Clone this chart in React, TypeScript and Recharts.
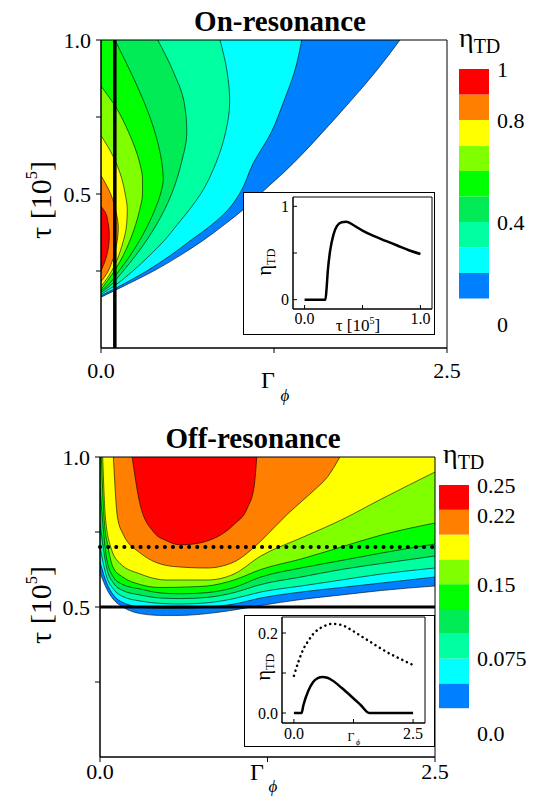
import {
  ComposedChart, Area, XAxis, YAxis, ReferenceLine, ReferenceArea,
  LineChart, Line, BarChart, Bar,
} from "recharts";

const SERIF = '"Liberation Serif", "Times New Roman", serif';
const BANDS = ["#0080FF", "#00FFFF", "#00FFA0", "#00EB55", "#00FF00", "#80FF00", "#FFFF00", "#FF8000", "#FF0000"];

// On-resonance: each contour line read as [tau, gamma]
const on10 = [[0.165, 0], [0.2, 0.16], [0.25, 0.38], [0.3, 0.57], [0.35, 0.74], [0.4, 0.89], [0.45, 1.03], [0.5, 1.15], [0.6, 1.39], [0.7, 1.6], [0.8, 1.8], [0.9, 1.99], [1.0, 2.16]];
const on20 = [[0.17, 0], [0.2, 0.13], [0.25, 0.33], [0.3, 0.5], [0.35, 0.65], [0.4, 0.8], [0.45, 0.92], [0.5, 1.0], [0.6, 1.1], [0.7, 1.23], [0.8, 1.32], [0.9, 1.4], [1.0, 1.45]];
const on30 = [[0.175, 0], [0.2, 0.09], [0.25, 0.23], [0.3, 0.35], [0.35, 0.46], [0.4, 0.55], [0.45, 0.64], [0.5, 0.72], [0.6, 0.83], [0.7, 0.9], [0.8, 0.93], [0.9, 0.91], [1.0, 0.86]];
const on40 = [[0.18, 0], [0.2, 0.06], [0.25, 0.16], [0.3, 0.25], [0.35, 0.33], [0.4, 0.4], [0.45, 0.46], [0.5, 0.51], [0.6, 0.58], [0.7, 0.62], [0.8, 0.6], [0.9, 0.52], [1.0, 0.41]];
const on50 = [[0.185, 0], [0.2, 0.04], [0.25, 0.13], [0.3, 0.21], [0.35, 0.28], [0.4, 0.34], [0.45, 0.39], [0.5, 0.43], [0.55, 0.45], [0.6, 0.44], [0.7, 0.39], [0.8, 0.31], [0.9, 0.21], [1.0, 0.1]];
const on60 = [[0.19, 0], [0.22, 0.05], [0.26, 0.11], [0.3, 0.16], [0.35, 0.21], [0.4, 0.25], [0.45, 0.28], [0.5, 0.3], [0.55, 0.3], [0.6, 0.28], [0.7, 0.2], [0.78, 0.11], [0.85, 0]];
const on70 = [[0.2, 0], [0.23, 0.05], [0.27, 0.1], [0.33, 0.15], [0.4, 0.185], [0.45, 0.19], [0.5, 0.175], [0.55, 0.15], [0.62, 0.09], [0.69, 0]];
const on80 = [[0.215, 0], [0.24, 0.04], [0.28, 0.08], [0.33, 0.11], [0.39, 0.125], [0.44, 0.11], [0.5, 0.07], [0.56, 0]];
const on90 = [[0.25, 0], [0.29, 0.035], [0.33, 0.055], [0.37, 0.06], [0.41, 0.05], [0.44, 0.032], [0.46, 0]];
const onLines = [on10, on20, on30, on40, on50, on60, on70, on80, on90];

// Off-resonance: lower edge of each level set read as [gamma, tau]
const off025 = [[0, 0.615], [0.05, 0.56], [0.1, 0.525], [0.17, 0.5], [0.3, 0.478], [0.45, 0.472], [0.6, 0.472], [0.8, 0.478], [1.0, 0.49], [1.2, 0.505], [1.5, 0.525], [1.8, 0.54], [2.1, 0.555], [2.5, 0.57]];
const off050 = [[0, 0.65], [0.05, 0.58], [0.1, 0.54], [0.17, 0.515], [0.3, 0.5], [0.45, 0.495], [0.6, 0.495], [0.8, 0.5], [1.0, 0.51], [1.2, 0.53], [1.5, 0.55], [1.8, 0.565], [2.1, 0.58], [2.5, 0.6]];
const off075 = [[0, 0.7], [0.05, 0.6], [0.1, 0.56], [0.17, 0.535], [0.3, 0.52], [0.45, 0.512], [0.6, 0.51], [0.8, 0.514], [1.0, 0.528], [1.2, 0.55], [1.5, 0.57], [1.8, 0.59], [2.1, 0.61], [2.5, 0.63]];
const off100 = [[0, 0.78], [0.05, 0.63], [0.1, 0.58], [0.17, 0.555], [0.3, 0.54], [0.45, 0.53], [0.6, 0.528], [0.8, 0.532], [1.0, 0.548], [1.2, 0.575], [1.5, 0.6], [1.8, 0.625], [2.1, 0.645], [2.5, 0.67]];
const off125 = [[0, 0.9], [0.05, 0.66], [0.1, 0.6], [0.17, 0.575], [0.3, 0.56], [0.45, 0.547], [0.6, 0.544], [0.8, 0.548], [1.0, 0.565], [1.2, 0.6], [1.5, 0.63], [1.8, 0.655], [2.1, 0.68], [2.5, 0.71]];
const off150 = [[0.01, 1.0], [0.03, 0.8], [0.06, 0.7], [0.1, 0.63], [0.17, 0.6], [0.3, 0.575], [0.45, 0.565], [0.67, 0.567], [0.8, 0.57], [1.0, 0.59], [1.2, 0.625], [1.5, 0.66], [1.8, 0.7], [2.1, 0.74], [2.5, 0.78]];
const off175 = [[0.02, 1.0], [0.04, 0.8], [0.08, 0.7], [0.15, 0.645], [0.3, 0.61], [0.5, 0.59], [0.8, 0.59], [1.0, 0.61], [1.2, 0.67], [1.5, 0.73], [1.8, 0.79], [2.1, 0.86], [2.5, 0.95]];
const off200 = [[0.1, 1.0], [0.13, 0.8], [0.17, 0.745], [0.3, 0.68], [0.55, 0.635], [0.8, 0.63], [1.0, 0.65], [1.1, 0.68], [1.2, 0.72], [1.3, 0.765], [1.4, 0.81], [1.5, 0.85], [1.6, 0.89], [1.7, 0.935], [1.79, 1.0]];
const off225 = [[0.24, 1.0], [0.3, 0.84], [0.4, 0.75], [0.5, 0.72], [0.6, 0.707], [0.7, 0.71], [0.8, 0.72], [0.9, 0.74], [1.0, 0.775], [1.1, 0.83], [1.15, 0.9], [1.17, 1.0]];
const offLines = [off025, off050, off075, off100, off125, off150, off175, off200, off225];

const onSteps = [0.1, 0.2, 0.3, 0.4, 0.5, 0.6, 0.7, 0.8, 0.9, 1.0];
const offSteps = [0.025, 0.05, 0.075, 0.1, 0.125, 0.15, 0.175, 0.2, 0.225, 0.25];
const onBarTicks = [0, 0.4, 0.8, 1];
const offBarTicks = [0, 0.075, 0.15, 0.22, 0.25];

// insets
const onCut = [[0, 0], [0.1, 0], [0.18, 0], [0.19, 0.12], [0.2, 0.3], [0.22, 0.52], [0.25, 0.7], [0.28, 0.79], [0.32, 0.83], [0.36, 0.835], [0.42, 0.8], [0.5, 0.74], [0.6, 0.68], [0.7, 0.63], [0.8, 0.58], [0.9, 0.53], [1.0, 0.49]];
const offDotted = [[0, 0.093], [0.1, 0.13], [0.2, 0.16], [0.3, 0.18], [0.4, 0.197], [0.5, 0.208], [0.65, 0.218], [0.8, 0.223], [1.0, 0.22], [1.2, 0.208], [1.4, 0.193], [1.6, 0.178], [1.8, 0.163], [2.0, 0.149], [2.2, 0.137], [2.5, 0.12]];
const offSolid = [[0, 0], [0.16, 0], [0.2, 0.02], [0.3, 0.055], [0.4, 0.077], [0.5, 0.087], [0.6, 0.09], [0.7, 0.088], [0.8, 0.082], [1.0, 0.063], [1.2, 0.042], [1.4, 0.02], [1.58, 0], [2.0, 0], [2.5, 0]];

const tickFont = { fontSize: 22, fontFamily: SERIF, fill: "#000" };
const smallFont = { fontSize: 16, fontFamily: SERIF, fill: "#000" };

function Txt({ x, y, size, bold, italic, rotate, children }: any) {
  return (
    <div style={{
      position: "absolute", left: x, top: y, fontFamily: SERIF, fontSize: size,
      fontWeight: bold ? 700 : 400, fontStyle: italic ? "italic" : "normal", lineHeight: 1,
      whiteSpace: "nowrap", transform: `translate(-50%,-50%)${rotate ? " rotate(-90deg)" : ""}`,
    }}>{children}</div>
  );
}

function Tau({ x, y, size }: any) {
  return (
    <Txt x={x} y={y} size={size} rotate>
      τ [10<span style={{ fontSize: "0.55em", verticalAlign: "0.8em" }}>5</span>]
    </Txt>
  );
}

function Eta({ x, y, size }: any) {
  return (
    <Txt x={x} y={y} size={size} rotate>
      η<span style={{ fontSize: "0.62em", verticalAlign: "-0.3em" }}>TD</span>
    </Txt>
  );
}

// plot area of the bar spans from top+20 to top+height-20
function ColorBar({ left, top, height, steps, ticks, fmt }: any) {
  const row: Record<string, number | string> = { k: "bar", base: steps[0] };
  steps.slice(1).forEach((s: number, i: number) => { row["b" + i] = s - steps[i]; });
  return (
    <div style={{ position: "absolute", left, top }}>
      <BarChart width={100} height={height} data={[row]} margin={{ top: 20, right: 0, bottom: 20, left: 0 }} barCategoryGap={0}>
        <XAxis dataKey="k" hide />
        <YAxis orientation="right" type="number" width={70} domain={[0, steps[steps.length - 1]]} ticks={ticks} interval={0}
          axisLine={false} tickLine={false} tickSize={0} tickMargin={8} tick={{ ...tickFont, textAnchor: "start" }} tickFormatter={fmt} />
        <Bar dataKey="base" stackId="s" fill="transparent" isAnimationActive={false} />
        {BANDS.map((c, i) => (
          <Bar key={i} dataKey={"b" + i} stackId="s" fill={c} isAnimationActive={false} />
        ))}
      </BarChart>
    </div>
  );
}

export default function App() {
  return (
    <div style={{ position: "absolute", left: 0, top: 0, width: 536, height: 804, background: "#fff" }}>
      {/* On-resonance map */}
      <div style={{ position: "absolute", left: 0, top: 0 }}>
        <ComposedChart layout="vertical" width={536} height={400} margin={{ top: 40, right: 89, bottom: 0, left: 0 }}>
          <XAxis type="number" domain={[0, 2.5]} allowDataOverflow ticks={[0, 1.25, 2.5]} height={52} interval={0}
            tickFormatter={(v: number) => (v === 1.25 ? "" : v.toFixed(1))} tick={tickFont}
            axisLine={{ stroke: "#000" }} tickLine={{ stroke: "#000" }} tickSize={5} tickMargin={9} />
          <YAxis type="number" dataKey="tau" reversed domain={[0, 1]} allowDataOverflow ticks={[0.25, 0.5, 0.75, 1]} width={101} interval={0}
            tickFormatter={(v: number) => (v === 0.5 || v === 1 ? v.toFixed(1) : "")} tick={tickFont}
            axisLine={{ stroke: "#000" }} tickLine={{ stroke: "#000" }} tickSize={5} tickMargin={5} />
          {onLines.map((pts, i) => (
            <Area key={i} data={pts.map(([tau, g]) => ({ tau, g }))} dataKey="g" type="monotone"
              fill={BANDS[i]} fillOpacity={1} stroke="#000" strokeWidth={0.6} isAnimationActive={false} />
          ))}
          <ReferenceArea x1={0} x2={2.5} y1={0} y2={1} fill="none" stroke="#000" strokeWidth={1} />
          <ReferenceLine x={0.1} stroke="#000" strokeWidth={3.5} />
        </ComposedChart>
      </div>

      {/* Off-resonance map */}
      <div style={{ position: "absolute", left: 0, top: 400 }}>
        <ComposedChart width={536} height={404} margin={{ top: 57, right: 101, bottom: 0, left: 0 }}>
          <XAxis type="number" dataKey="g" domain={[0, 2.5]} allowDataOverflow ticks={[0, 1.25, 2.5]} height={47} interval={0}
            tickFormatter={(v: number) => (v === 1.25 ? "" : v.toFixed(1))} tick={tickFont}
            axisLine={{ stroke: "#000" }} tickLine={{ stroke: "#000" }} tickSize={5} tickMargin={1} />
          <YAxis type="number" domain={[0, 1]} allowDataOverflow ticks={[0.25, 0.5, 0.75, 1]} width={100} interval={0}
            tickFormatter={(v: number) => (v === 0.5 || v === 1 ? v.toFixed(1) : "")} tick={tickFont}
            axisLine={{ stroke: "#000" }} tickLine={{ stroke: "#000" }} tickSize={5} tickMargin={5} />
          {offLines.map((pts, i) => (
            <Area key={i} data={pts.map(([g, tau]) => ({ g, tau }))} dataKey="tau" baseValue={1} type="monotone"
              fill={BANDS[i]} fillOpacity={1} stroke="#000" strokeWidth={0.6} isAnimationActive={false} />
          ))}
          <ReferenceArea x1={0} x2={2.5} y1={0} y2={1} fill="none" stroke="#000" strokeWidth={1} />
          <ReferenceLine y={0.7} stroke="#000" strokeWidth={4} strokeDasharray="0.1 8" strokeLinecap="round" />
          <ReferenceLine y={0.5} stroke="#000" strokeWidth={3} />
        </ComposedChart>
      </div>

      {/* On-resonance inset */}
      <div style={{ position: "absolute", left: 243, top: 192, width: 192, height: 143, boxSizing: "border-box", border: "1.5px solid #000", background: "#fff" }} />
      <div style={{ position: "absolute", left: 243, top: 192 }}>
        <LineChart width={192} height={143} data={onCut.map(([t, e]) => ({ t, e }))} margin={{ top: 5, right: 3, bottom: 0, left: 0 }}>
          <XAxis type="number" dataKey="t" domain={[-0.1, 1.1]} allowDataOverflow ticks={[0, 0.5, 1]} height={26} interval={0}
            tickFormatter={(v: number) => (v === 0.5 ? "" : v.toFixed(1))} tick={smallFont}
            axisLine={{ stroke: "#000" }} tickLine={{ stroke: "#000" }} tickSize={-4} tickMargin={8} />
          <YAxis type="number" domain={[-0.1, 1.1]} allowDataOverflow ticks={[0, 0.5, 1]} width={50} interval={0}
            tickFormatter={(v: number) => (v === 0.5 ? "" : String(v))} tick={smallFont}
            axisLine={{ stroke: "#000" }} tickLine={{ stroke: "#000" }} tickSize={-4} tickMargin={8} />
          <ReferenceArea x1={-0.1} x2={1.1} y1={-0.1} y2={1.1} fill="none" stroke="#000" strokeWidth={1} />
          <Line dataKey="e" type="monotone" stroke="#000" strokeWidth={2.5} dot={false} isAnimationActive={false} />
        </LineChart>
      </div>

      {/* Off-resonance inset */}
      <div style={{ position: "absolute", left: 244, top: 615, width: 191, height: 132, boxSizing: "border-box", border: "1.5px solid #000", background: "#fff" }} />
      <div style={{ position: "absolute", left: 244, top: 615 }}>
        <LineChart width={191} height={132} margin={{ top: 2, right: 10, bottom: 0, left: 0 }}>
          <XAxis type="number" dataKey="g" domain={[-0.25, 2.75]} allowDataOverflow ticks={[0, 1.25, 2.5]} height={24} interval={0}
            tickFormatter={(v: number) => (v === 1.25 ? "" : v.toFixed(1))} tick={smallFont}
            axisLine={{ stroke: "#000" }} tickLine={{ stroke: "#000" }} tickSize={-4} tickMargin={9} />
          <YAxis type="number" domain={[-0.025, 0.24]} allowDataOverflow ticks={[0, 0.1, 0.2]} width={38} interval={0}
            tickFormatter={(v: number) => (v === 0.1 ? "" : v.toFixed(1))} tick={smallFont}
            axisLine={{ stroke: "#000" }} tickLine={{ stroke: "#000" }} tickSize={-4} tickMargin={8} />
          <ReferenceArea x1={-0.25} x2={2.75} y1={-0.025} y2={0.24} fill="none" stroke="#000" strokeWidth={1} />
          <Line data={offDotted.map(([g, e]) => ({ g, e }))} dataKey="e" type="monotone" stroke="#000" strokeWidth={2.5}
            strokeDasharray="0.1 5" strokeLinecap="round" dot={false} isAnimationActive={false} />
          <Line data={offSolid.map(([g, e]) => ({ g, e }))} dataKey="e" type="monotone" stroke="#000" strokeWidth={2.5}
            dot={false} isAnimationActive={false} />
        </LineChart>
      </div>

      {/* colour bars */}
      <ColorBar left={459} top={49} height={295} steps={onSteps} ticks={onBarTicks}
        fmt={(v: number) => (v === 0 || v === 1 ? String(v) : v.toFixed(1))} />
      <ColorBar left={439} top={465} height={288} steps={offSteps} ticks={offBarTicks}
        fmt={(v: number) => (v === 0 ? "0.0" : String(v))} />

      {/* text */}
      <Txt x={280} y={21} size={29} bold>On-resonance</Txt>
      <Txt x={253} y={438} size={29} bold>Off-resonance</Txt>
      <Tau x={40} y={200} size={30} />
      <Tau x={40} y={605} size={30} />
      <Txt x={268} y={380} size={24}>Γ</Txt>
      <Txt x={285} y={395} size={17} italic>ϕ</Txt>
      <Txt x={257} y={772} size={24}>Γ</Txt>
      <Txt x={273} y={786} size={17} italic>ϕ</Txt>
      <div style={{ position: "absolute", left: 459, top: 24, fontFamily: SERIF, fontSize: 28, lineHeight: 1 }}>
        η<span style={{ fontSize: 20, verticalAlign: -6 }}>TD</span>
      </div>
      <div style={{ position: "absolute", left: 443, top: 440, fontFamily: SERIF, fontSize: 28, lineHeight: 1 }}>
        η<span style={{ fontSize: 20, verticalAlign: -6 }}>TD</span>
      </div>
      <Eta x={266} y={262} size={20} />
      <Txt x={358} y={325} size={17}>
        τ [10<span style={{ fontSize: "0.6em", verticalAlign: "0.7em" }}>5</span>]
      </Txt>
      <Eta x={265} y={667} size={20} />
      <Txt x={351} y={737} size={12}>Γ</Txt>
      <Txt x={358} y={743} size={8} italic>ϕ</Txt>
    </div>
  );
}
